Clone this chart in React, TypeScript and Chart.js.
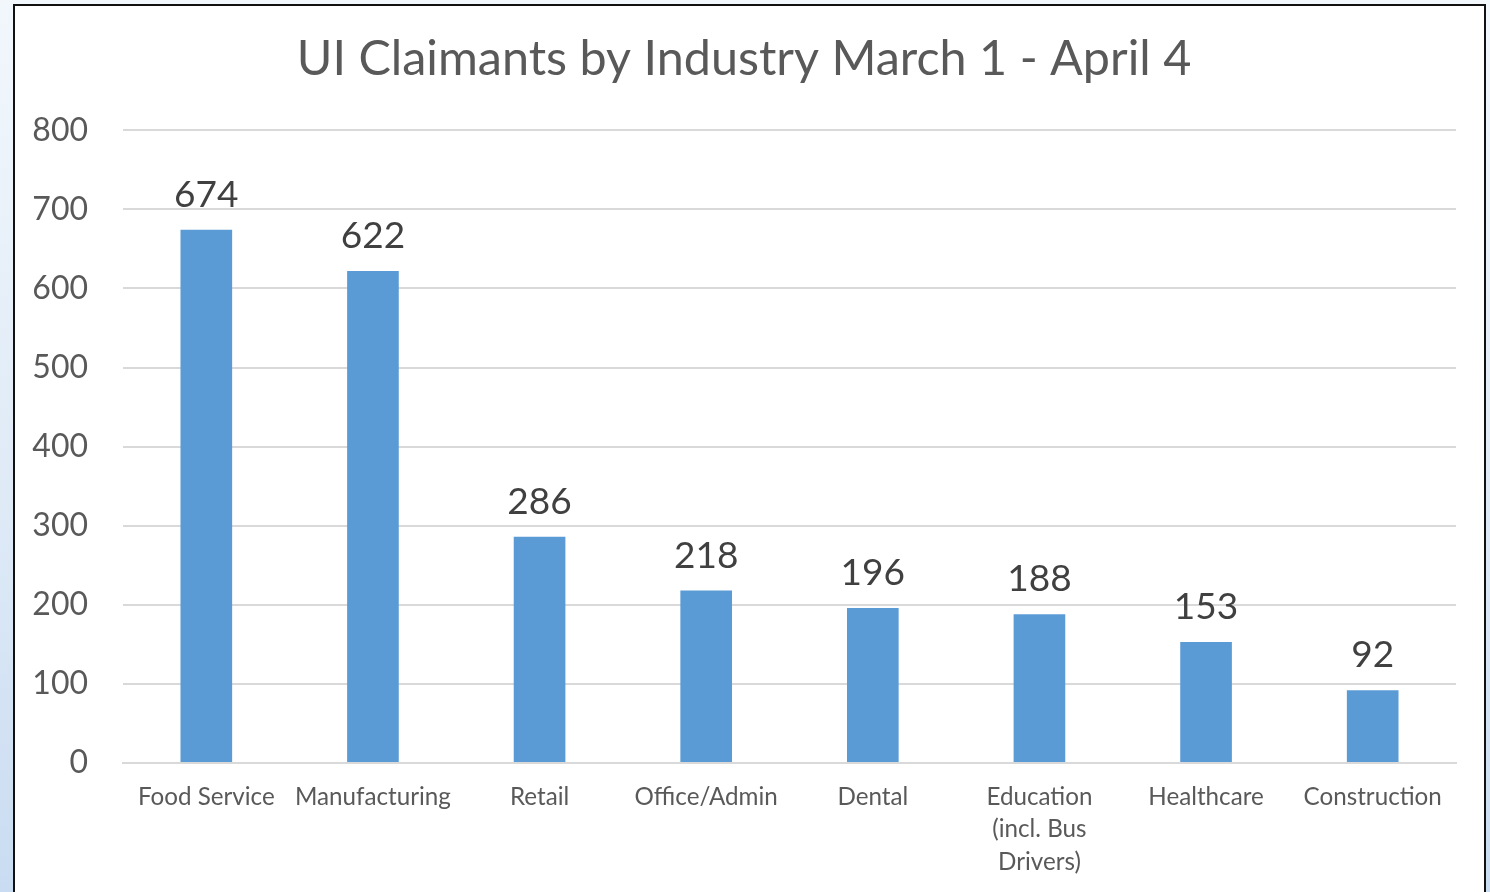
import React, { useEffect, useRef } from "react";
import { Chart, registerables } from "chart.js";

Chart.register(...registerables);

const categories: (string | string[])[] = [
  "Food Service",
  "Manufacturing",
  "Retail",
  "Office/Admin",
  "Dental",
  ["Education", "(incl. Bus", "Drivers)"],
  "Healthcare",
  "Construction",
];
const claimants: number[] = [674, 622, 286, 218, 196, 188, 153, 92];
const titleText = "UI Claimants by Industry March 1 - April 4";
const yMin = 0;
const yMax = 800;
const yStep = 100;

const FONT = "Lato, 'Open Sans', sans-serif";

const valueLabels = {
  id: "valueLabels",
  afterDatasetsDraw(chart: any) {
    const ctx = chart.ctx;
    const meta = chart.getDatasetMeta(0);
    ctx.save();
    ctx.font = `37px ${FONT}`;
    ctx.fillStyle = "#404040";
    ctx.textAlign = "center";
    ctx.textBaseline = "alphabetic";
    meta.data.forEach((bar: any, i: number) => {
      ctx.fillText(String(chart.data.datasets[0].data[i]), bar.x, bar.y - 23);
    });
    ctx.restore();
  },
};

export default function App() {
  const ref = useRef<HTMLCanvasElement | null>(null);
  useEffect(() => {
    if (!ref.current) return;
    const chart = new Chart(ref.current, {
      type: "bar",
      data: {
        labels: categories,
        datasets: [
          {
            data: claimants,
            backgroundColor: "#5B9BD5",
            barPercentage: 0.62,
            categoryPercentage: 0.5,
          },
        ],
      },
      options: {
        animation: false,
        responsive: false,
        maintainAspectRatio: false,
        layout: { padding: { left: 17, right: 28, top: 0, bottom: 0 } },
        plugins: {
          legend: { display: false },
          tooltip: { enabled: false },
          title: {
            display: true,
            text: titleText,
            color: "#595959",
            font: { family: FONT, size: 48.5, weight: "normal", lineHeight: 1.2 },
            padding: { top: 24, bottom: 42 },
          },
        },
        scales: {
          x: {
            grid: { display: false, drawTicks: false },
            border: { display: true, color: "#D9D9D9", width: 2 },
            ticks: {
              color: "#595959",
              font: { family: FONT, size: 24.2, lineHeight: 1.34 },
              padding: 18,
              maxRotation: 0,
              autoSkip: false,
            },
            afterFit: (scale: any) => {
              scale.height = 131;
            },
          },
          y: {
            min: yMin,
            max: yMax,
            grid: { color: "#D9D9D9", lineWidth: 2, drawTicks: false },
            border: { display: false },
            ticks: {
              stepSize: yStep,
              color: "#595959",
              font: { family: FONT, size: 32 },
              padding: 35,
            },
            afterFit: (scale: any) => {
              scale.width = 91;
            },
          },
        },
      },
      plugins: [valueLabels],
    });
    return () => chart.destroy();
  }, []);

  return (
    <div
      style={{
        position: "fixed",
        inset: 0,
        background: "linear-gradient(to bottom, #f2f7fc 0%, #dde9f6 60%, #c9dcf1 100%)",
      }}
    >
      <div
        style={{
          position: "absolute",
          left: 13,
          top: 4,
          width: 1469,
          height: 900,
          background: "#ffffff",
          border: "2px solid #111",
          boxSizing: "content-box",
        }}
      >
        <canvas ref={ref} width={1469} height={888} style={{ display: "block" }} />
      </div>
    </div>
  );
}
